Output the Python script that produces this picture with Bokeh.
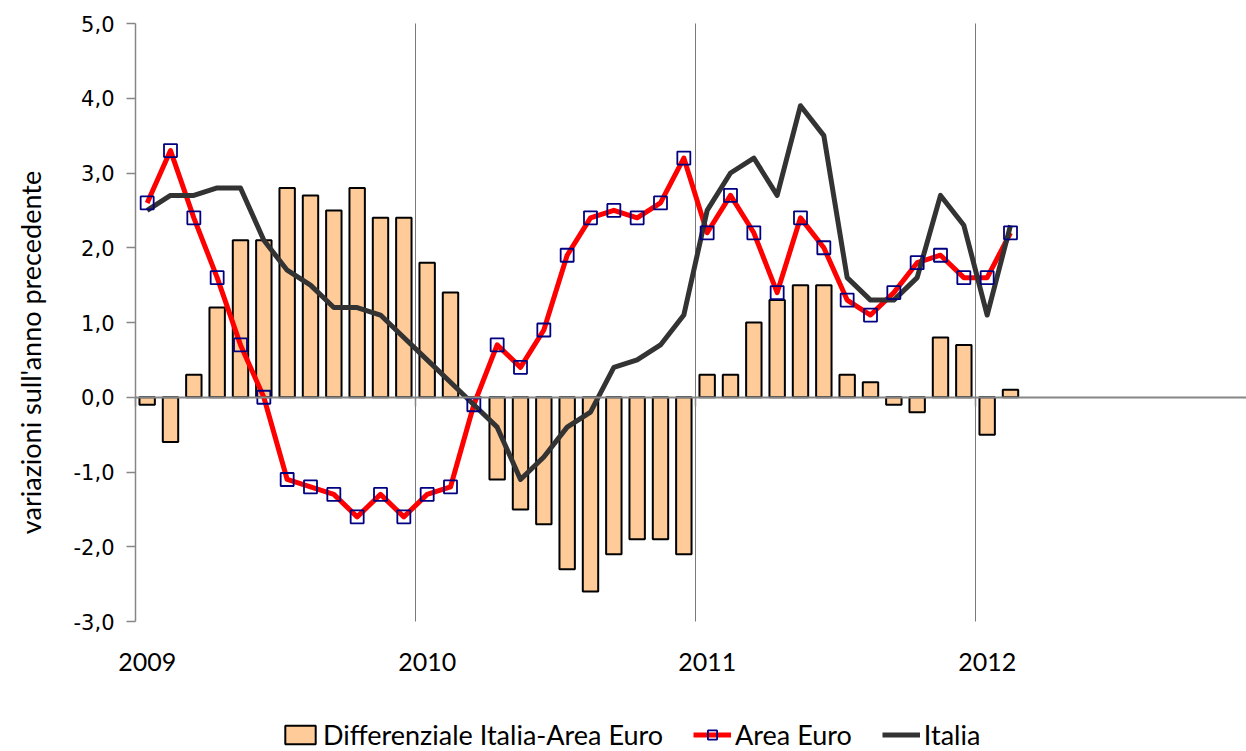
import math
from bokeh.plotting import figure
from bokeh.models import (Range1d, LinearAxis, FixedTicker, Legend, LegendItem,
                          ColumnDataSource)
from bokeh.core.properties import value
from bokeh.embed import file_html
from bokeh.resources import INLINE

# ---- data (monthly, Jan 2009 - Feb 2012) ----
years = ["2009", "2010", "2011", "2012"]
area_euro = [2.6, 3.3, 2.4, 1.6, 0.7, 0.0, -1.1, -1.2, -1.3, -1.6, -1.3, -1.6,
             -1.3, -1.2, -0.1, 0.7, 0.4, 0.9, 1.9, 2.4, 2.5, 2.4, 2.6, 3.2,
             2.2, 2.7, 2.2, 1.4, 2.4, 2.0, 1.3, 1.1, 1.4, 1.8, 1.9, 1.6,
             1.6, 2.2]
italia = [2.5, 2.7, 2.7, 2.8, 2.8, 2.1, 1.7, 1.5, 1.2, 1.2, 1.1, 0.8,
          0.5, 0.2, -0.1, -0.4, -1.1, -0.8, -0.4, -0.2, 0.4, 0.5, 0.7, 1.1,
          2.5, 3.0, 3.2, 2.7, 3.9, 3.5, 1.6, 1.3, 1.3, 1.6, 2.7, 2.3,
          1.1, 2.3]
differenziale = [-0.1, -0.6, 0.3, 1.2, 2.1, 2.1, 2.8, 2.7, 2.5, 2.8, 2.4, 2.4,
                 1.8, 1.4, 0.0, -1.1, -1.5, -1.7, -2.3, -2.6, -2.1, -1.9, -1.9, -2.1,
                 0.3, 0.3, 1.0, 1.3, 1.5, 1.5, 0.3, 0.2, -0.1, -0.2, 0.8, 0.7,
                 -0.5, 0.1]
y_ticks = [-3, -2, -1, 0, 1, 2, 3, 4, 5]

n = len(area_euro)
xs = [i + 0.5 for i in range(n)]
src = ColumnDataSource(dict(x=xs, ae=area_euro, it=italia, d=differenziale))

CAL = "Lato"
GRAY = "#868686"
W, H = 1246, 751
AXIS_X, TOP_Y, BOT_Y = 135, 23, 621          # pixel layout of the plotting area
MONTH_PX = 280 / 12
YMIN, YMAX = y_ticks[0], y_ticks[-1]
PX_PER_UNIT = (BOT_Y - TOP_Y) / (YMAX - YMIN)

x_start = -AXIS_X / MONTH_PX
x_end = (W - AXIS_X) / MONTH_PX
y_end = YMAX + TOP_Y / PX_PER_UNIT
y_start = YMIN - (H - BOT_Y) / PX_PER_UNIT

p = figure(frame_width=W, frame_height=H,
           x_range=Range1d(x_start, x_end), y_range=Range1d(y_start, y_end),
           output_backend="svg", toolbar_location=None,
           min_border_left=0, min_border_top=0, min_border_right=0, min_border_bottom=0,
           x_axis_type=None, y_axis_type=None)
p.outline_line_color = None
p.xgrid.visible = False
p.ygrid.visible = False
p.background_fill_color = "white"

# year separators
sep_x = [12 * k for k in range(1, len(years))]
p.segment(x0=sep_x, y0=[YMIN] * len(sep_x), x1=sep_x, y1=[YMAX] * len(sep_x),
          line_color="#7a7a7a", line_width=1)

bars = p.vbar(x="x", top="d", bottom=0, width=0.66, source=src,
              fill_color="#FFCC99", line_color="black", line_width=2)
red = p.line("x", "ae", source=src, line_color="#FF0000", line_width=5, line_join="round")
dark = p.line("x", "it", source=src, line_color="#333333", line_width=5, line_join="round")
sq = p.scatter("x", "ae", source=src, marker="square", size=13, fill_color=None,
               line_color="#000080", line_width=1.8)

# y axis at x = 0
yax = LinearAxis(ticker=FixedTicker(ticks=y_ticks), bounds=(YMIN, YMAX), fixed_location=0)
yax.major_label_overrides = {float(t): (f"{t:.1f}").replace(".", ",") for t in y_ticks}
yax.axis_line_color = GRAY
yax.axis_line_width = 1.5
yax.major_tick_line_color = GRAY
yax.major_tick_line_width = 1.5
yax.major_tick_out = 9
yax.major_tick_in = 0
yax.minor_tick_line_color = None
yax.major_label_text_font = "DejaVu Sans"
yax.major_label_text_font_size = "21px"
yax.major_label_text_color = "black"
yax.major_label_standoff = 12
p.add_layout(yax, "left")

# category axis on the zero line: year-boundary ticks
zax = LinearAxis(ticker=FixedTicker(ticks=[12 * k for k in range(len(years))]),
                 bounds=(0, x_end), fixed_location=0)
zax.axis_line_color = GRAY
zax.axis_line_width = 2
zax.major_tick_line_color = GRAY
zax.major_tick_line_width = 1.5
zax.major_tick_out = 9
zax.major_tick_in = 0
zax.minor_tick_line_color = None
zax.major_label_text_color = None
zax.major_label_text_font_size = "1px"
p.add_layout(zax, "below")

# year labels (centred on January) below the plotting area
year_pos = [12 * k + 0.5 for k in range(len(years))]
xax = LinearAxis(ticker=FixedTicker(ticks=year_pos), fixed_location=YMIN)
xax.major_label_overrides = {float(v): y for v, y in zip(year_pos, years)}
xax.axis_line_color = None
xax.major_tick_line_color = None
xax.minor_tick_line_color = None
xax.major_tick_out = 0
xax.major_tick_in = 0
xax.major_label_standoff = 31
xax.major_label_text_font = CAL
xax.major_label_text_font_size = "25px"
xax.major_label_text_color = "black"
p.add_layout(xax, "below")

# y axis title
p.text(x=[-105 / MONTH_PX], y=[YMAX - (352 - TOP_Y) / PX_PER_UNIT],
       text=["variazioni sull'anno precedente"], angle=math.pi / 2,
       text_align="center", text_baseline="middle",
       text_font=value(CAL), text_font_size=value("27px"), text_color="black")

legend = Legend(items=[LegendItem(label="Differenziale Italia-Area Euro", renderers=[bars]),
                       LegendItem(label="Area Euro", renderers=[red, sq]),
                       LegendItem(label="Italia", renderers=[dark])],
                orientation="horizontal", location=(281, 0),
                label_text_font=CAL, label_text_font_size="27px",
                label_text_color="black", label_height=23,
                glyph_width=38, glyph_height=23, label_standoff=4,
                spacing=30, padding=2, margin=0,
                border_line_color=None, background_fill_alpha=0)
p.add_layout(legend, "center")

open("out.html", "w").write(file_html(p, INLINE))
